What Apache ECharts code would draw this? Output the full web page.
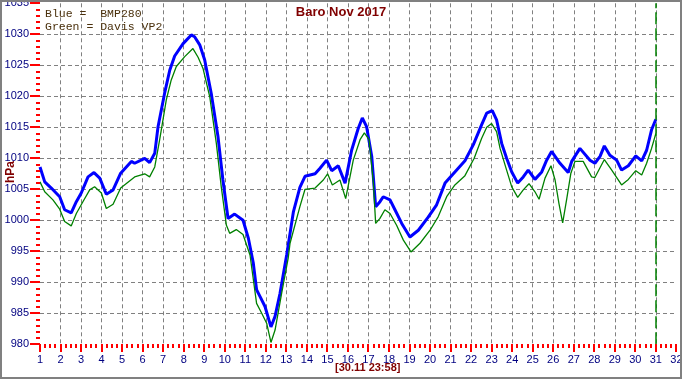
<!DOCTYPE html>
<html>
<head>
<meta charset="utf-8">
<script src="https://cdn.jsdelivr.net/npm/echarts@6/dist/echarts.min.js"></script>
<style>
html,body{margin:0;padding:0;background:#fff;}
#c{width:682px;height:380px;}
</style>
</head>
<body>
<div id="c"></div>
<script>
// ---- data ----
const titleText = 'Baro Nov 2017';
const legendLines = ['Blue =  BMP280', 'Green = Davis VP2'];
const yAxisName = 'hPa';
const timeStamp = '[30.11 23:58]';
const nowDay = 31;

const blueDays = [1.0,1.23,1.55,1.96,2.20,2.52,2.77,3.01,3.34,3.63,3.91,4.23,4.56,4.93,5.45,5.61,6.10,6.34,6.59,6.75,7.07,7.32,7.56,7.97,8.37,8.53,8.78,9.02,9.34,9.67,9.91,10.16,10.48,10.89,11.15,11.39,11.55,11.72,11.96,12.25,12.45,12.69,13.02,13.34,13.66,13.91,14.40,14.64,14.96,15.21,15.53,15.86,16.18,16.50,16.70,16.91,17.16,17.35,17.56,17.72,18.05,18.29,18.62,19.02,19.43,19.91,20.32,20.73,21.21,21.70,22.11,22.51,22.76,23.03,23.24,23.49,23.73,23.98,24.27,24.54,24.78,25.11,25.44,25.68,25.92,26.33,26.73,26.90,27.30,27.79,28.03,28.28,28.49,28.76,29.09,29.33,29.66,30.02,30.31,30.55,30.79,31.0];
const blueValues = [1008.6,1006.2,1005.2,1003.8,1001.7,1001.2,1003.0,1004.4,1007.0,1007.7,1006.8,1004.2,1004.9,1007.6,1009.5,1009.2,1010.0,1009.3,1010.8,1015.1,1020.5,1024.2,1026.5,1028.5,1029.9,1029.6,1028.3,1025.9,1020.5,1013.5,1006.5,1000.3,1001.0,1000.0,997.1,993.1,988.8,987.7,986.1,982.8,984.5,988.2,994.5,1001.3,1005.3,1007.1,1007.5,1008.4,1009.7,1008.0,1008.8,1006.0,1011.3,1014.8,1016.5,1015.1,1010.3,1002.2,1003.0,1003.8,1003.3,1001.7,999.5,997.3,998.4,1000.5,1002.5,1006.0,1007.8,1009.6,1012.2,1015.4,1017.3,1017.7,1016.2,1012.4,1010.0,1007.8,1006.0,1007.0,1008.1,1006.6,1007.8,1009.7,1011.1,1009.2,1007.7,1009.5,1011.6,1009.7,1009.2,1010.3,1012.0,1010.5,1009.7,1008.1,1008.8,1010.4,1009.6,1011.3,1014.6,1016.3];

const greenDays = [1.0,1.23,1.63,1.96,2.20,2.52,2.77,3.09,3.42,3.66,3.99,4.23,4.56,4.93,5.61,6.10,6.34,6.59,6.83,7.15,7.39,7.64,8.05,8.45,8.70,8.94,9.27,9.59,9.83,10.08,10.24,10.56,10.89,11.23,11.55,11.80,12.04,12.25,12.45,12.77,13.09,13.18,13.66,13.91,14.40,14.80,15.01,15.24,15.61,15.89,16.26,16.59,16.80,17.03,17.24,17.35,17.56,17.80,18.05,18.37,18.70,19.07,19.51,20.00,20.40,20.81,21.21,21.70,22.15,22.51,22.76,23.00,23.24,23.41,23.73,23.98,24.27,24.54,24.82,25.11,25.31,25.60,25.89,26.09,26.28,26.46,26.65,26.86,27.06,27.46,27.87,28.03,28.49,28.85,29.33,29.66,30.02,30.31,30.55,30.79,31.0];
const greenValues = [1006.2,1004.6,1003.3,1001.8,999.8,999.1,1001.1,1003.0,1004.9,1005.4,1004.4,1001.9,1002.6,1005.2,1007.0,1007.5,1007.0,1008.6,1013.0,1019.4,1022.6,1024.8,1026.4,1027.7,1026.3,1024.5,1019.9,1012.4,1005.4,999.2,997.9,998.5,997.7,994.4,986.6,985.0,983.4,980.3,982.3,988.2,993.9,996.3,1002.2,1005.0,1005.2,1006.5,1007.5,1005.7,1006.5,1003.5,1009.7,1013.0,1014.1,1013.0,1006.0,999.5,1000.3,1001.7,1001.1,999.2,996.8,994.9,996.3,998.4,1000.6,1003.8,1005.7,1007.2,1010.0,1013.2,1015.0,1015.6,1014.3,1011.6,1008.1,1005.4,1003.7,1004.9,1005.9,1004.6,1003.4,1006.8,1008.8,1006.5,1002.7,999.6,1003.3,1007.6,1009.5,1009.5,1007.0,1006.9,1009.8,1008.1,1005.7,1006.6,1008.0,1007.3,1009.2,1011.6,1014.0];

const xMin = 1, xMax = 32, xStep = 1, xMinorPerStep = 4;
const yMin = 980, yMax = 1035, yStep = 5, yMinorPerStep = 5;

// ---- chart ----
const chart = echarts.init(document.getElementById('c'), null, {renderer: 'canvas'});
const zip = (a, b) => a.map((d, i) => [d, b[i]]);
const navy = '#000080', darkRed = '#800000';
const gridDash = {color: '#808080', type: [4, 3], width: 1};

const xTickData = [];
for (let i = 0; i <= (xMax - xMin) / xStep * xMinorPerStep; i++) {
  xTickData.push([xMin + i * xStep / xMinorPerStep, yMin, i % xMinorPerStep === 0 ? 1 : 0]);
}
const yTickData = [];
for (let i = 0; i <= (yMax - yMin) / yStep * yMinorPerStep; i++) {
  yTickData.push([xMin, yMin + i * yStep / yMinorPerStep, i % yMinorPerStep === 0 ? 1 : 0]);
}

chart.setOption({
  animation: false,
  backgroundColor: '#ffffff',
  grid: {left: 40, right: 5.6, top: 3.3, bottom: 35.7, containLabel: false, outerBoundsMode: 'none'},
  xAxis: {
    type: 'value', min: xMin, max: xMax, interval: xStep,
    axisLine: {show: false},
    axisTick: {show: false},
    axisLabel: {color: navy, fontSize: 11, fontFamily: 'Liberation Sans, Arial', margin: 10, showMinLabel: true, showMaxLabel: true, hideOverlap: false, formatter: v => String(v)},
    splitLine: {show: true, showMinLine: false, showMaxLine: false, lineStyle: gridDash}
  },
  yAxis: {
    type: 'value', min: yMin, max: yMax, interval: yStep,
    axisLine: {show: false},
    axisTick: {show: false},
    axisLabel: {color: navy, fontSize: 11, fontFamily: 'Liberation Sans, Arial', margin: 11, showMinLabel: true, showMaxLabel: true, formatter: v => String(v)},
    splitLine: {show: true, showMinLine: false, showMaxLine: false, lineStyle: gridDash}
  },
  series: [
    {
      name: 'BMP280', type: 'line', data: zip(blueDays, blueValues),
      showSymbol: false, symbol: 'none', silent: true,
      lineStyle: {color: '#0000ff', width: 3},
      z: 3
    },
    {
      name: 'Davis VP2', type: 'line', data: zip(greenDays, greenValues),
      showSymbol: false, symbol: 'none', silent: true,
      lineStyle: {color: '#008000', width: 1.3},
      z: 4,
      markLine: {
        silent: true, symbol: ['none', 'none'], label: {show: false},
        lineStyle: {color: '#008000', type: [12, 4], width: 1.5},
        data: [{xAxis: nowDay}]
      }
    },
    {
      name: 'xTicks', type: 'custom', data: xTickData, clip: false, silent: true, z: 10,
      encode: {x: 0, y: 1},
      renderItem: (params, api) => {
        const p = api.coord([api.value(0), api.value(1)]);
        return {type: 'rect', shape: {x: Math.round(p[0]) - 1, y: Math.round(p[1]), width: 2, height: api.value(2) ? 8 : 4}, style: {fill: '#ff0000'}};
      }
    },
    {
      name: 'yTicks', type: 'custom', data: yTickData, clip: false, silent: true, z: 10,
      encode: {x: 0, y: 1},
      renderItem: (params, api) => {
        const p = api.coord([api.value(0), api.value(1)]);
        const len = api.value(2) ? 10 : 4;
        return {type: 'rect', shape: {x: Math.round(p[0]) - len, y: Math.round(p[1]) - 1, width: len, height: 2}, style: {fill: '#ff0000'}};
      }
    }
  ],
  graphic: [
    {type: 'rect', shape: {x: 1, y: 1, width: 680, height: 377}, style: {fill: 'none', stroke: '#808080', lineWidth: 2}, silent: true, z: 100},
    {type: 'text', left: 'center', top: 6, style: {text: titleText, fill: darkRed, font: 'bold 13px "Liberation Sans", Arial', textAlign: 'center'}, z: 50},
    {type: 'text', x: 45, y: 13.5, style: {text: legendLines[0], fill: '#4a300c', font: '11.5px "Liberation Mono", "Courier New", monospace', textVerticalAlign: 'middle'}, z: 50},
    {type: 'text', x: 45, y: 26.5, style: {text: legendLines[1], fill: '#4a300c', font: '11.5px "Liberation Mono", "Courier New", monospace', textVerticalAlign: 'middle'}, z: 50},
    {type: 'text', x: 11, y: 172, rotation: Math.PI / 2, style: {text: yAxisName, fill: darkRed, font: 'bold 12px "Liberation Sans", Arial', textAlign: 'center', textVerticalAlign: 'middle'}, z: 50},
    {type: 'text', x: 335, y: 368, style: {text: timeStamp, fill: darkRed, font: 'bold 11px "Liberation Sans", Arial', textVerticalAlign: 'middle'}, z: 50}
  ]
});
</script>
</body>
</html>
